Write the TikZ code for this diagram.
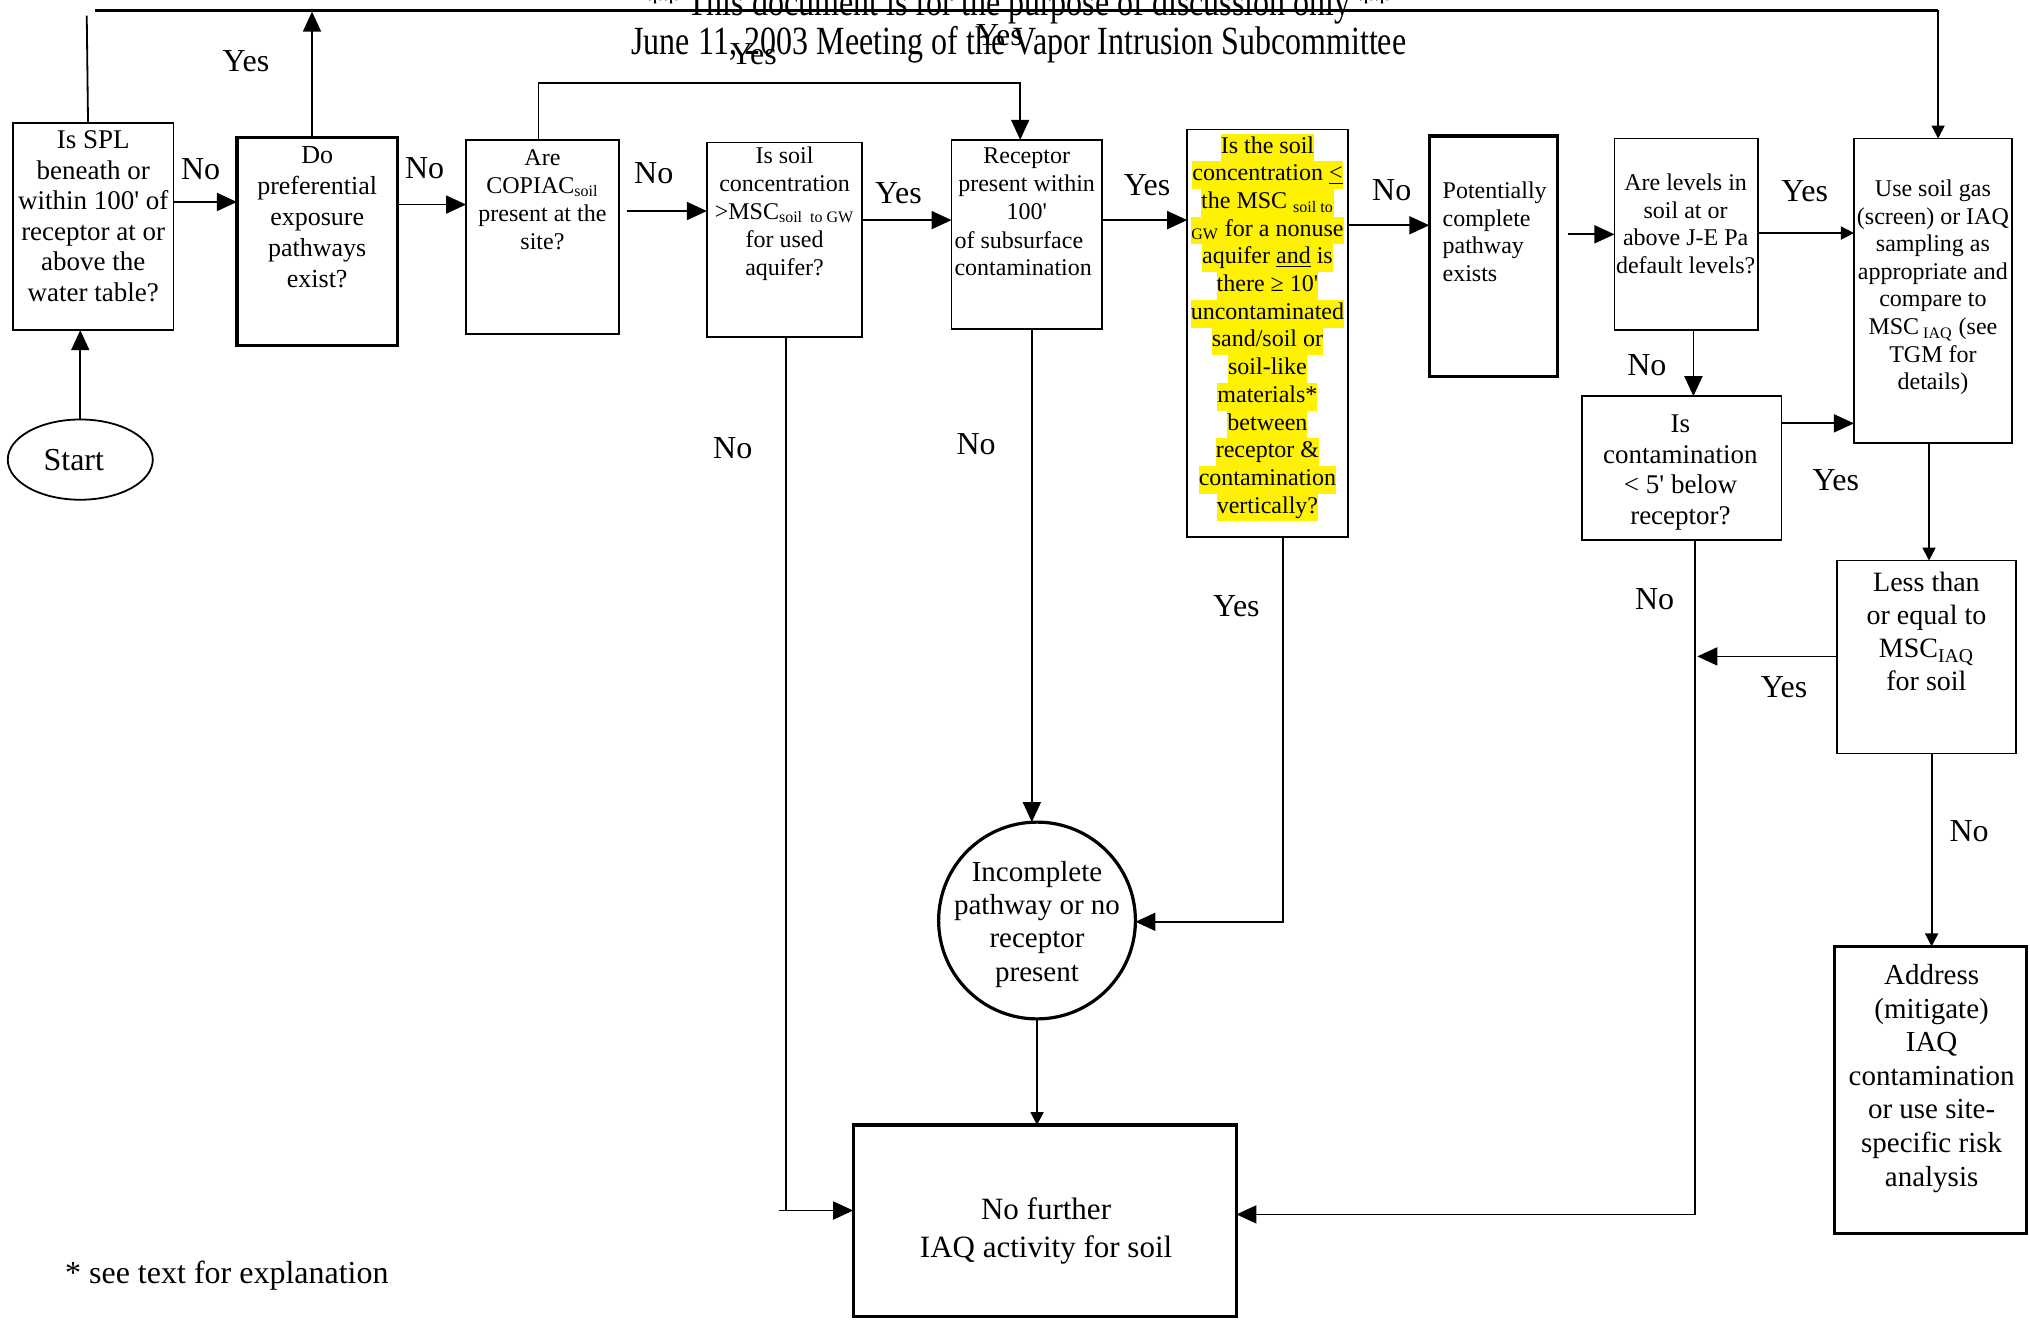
\documentclass[tikz,border=0pt]{standalone}
\usepackage{graphicx}
\usepackage{fontspec}
\setmainfont{Liberation Serif}
\usetikzlibrary{arrows.meta,shapes.geometric}
\newcommand{\pxu}{0.6473pt}
\newcommand{\hlt}[1]{{\setlength{\fboxsep}{0pt}\colorbox{yellow}{\strut #1}}}
\newcommand{\fsz}[2]{\fontsize{#1}{#2}\selectfont}
\newcommand{\qs}{\textquotesingle}
\begin{document}
\begin{tikzpicture}[x=0.6473pt,y=-0.6473pt,
  box/.style 2 args={draw, line width=0.9pt, inner sep=0pt, outer sep=0pt, minimum width={#1*\pxu}, minimum height={#2*\pxu}},
  tbox/.style 2 args={box={#1}{#2}, line width=1.6pt},
  txt/.style={align=center, inner sep=0pt},
  lab/.style={font=\fsz{16}{18}, inner sep=0pt},
  conn/.style={line width=0.9pt},
  arr/.style={conn, -{Triangle[length=10pt,width=9pt]}},
  sarr/.style={conn, -{Triangle[length=6.5pt,width=6.5pt]}},
  topl/.style={line width=1.5pt}]
\path[fill=white, use as bounding box] (0,0) rectangle (1568,1019);

% titles
\node[font=\fsz{20}{22}, anchor=base, inner sep=0pt] (ti1) at (787,12) {\scalebox{0.8}[1]{** This document is for the purpose of discussion only **}};
\node[font=\fsz{20}{22}, anchor=base, inner sep=0pt] (ti2) at (787,42) {\scalebox{0.8}[1]{June 11, 2003 Meeting of the Vapor Intrusion Subcommittee}};

% boxes
\node[box={124}{160}] (b1) at (72,175) {};
\node[txt, font=\fsz{13.5}{15.3}] (t1) at (72,167) {Is SPL\\beneath or\\within 100\qs{} of\\receptor at or\\above the\\water table?};

\node[tbox={124}{161}] (b2) at (245,186.5) {};
\node[txt, font=\fsz{13}{15.5}] (t2) at (245,168) {Do\\preferential\\exposure\\pathways\\exist?};

\node[box={118}{150}] (b3) at (419,183) {};
\node[txt, font=\fsz{12}{14}] (t3) at (419,154) {Are\\COPIAC\textsubscript{soil}\\present at the\\site?};

\node[box={120}{150}] (b4) at (606,185) {};
\node[txt, font=\fsz{12}{13.9}] (t4) at (606,165) {Is soil\\concentration\\>MSC\textsubscript{soil\ \ to GW}\\for used\\aquifer?};

\node[box={116}{146}] (b5) at (793,181) {};
\node[txt, font=\fsz{12}{13.9}] (t5a) at (793,142) {Receptor\\present within\\100\qs};
\node[txt, font=\fsz{12}{13.9}, align=left, anchor=west] (t5b) at (737,196) {of subsurface\\contamination};

\node[box={124}{315}] (b6) at (979,257.5) {};
\node[txt, font=\fsz{12}{13.85}] (t6) at (979,253) {\hlt{Is the soil}\\\hlt{concentration \underline{<}}\\\hlt{the MSC \textsubscript{soil to}}\\\hlt{\textsubscript{GW} for a nonuse}\\\hlt{aquifer \underline{and} is}\\\hlt{there ≥ 10\qs}\\\hlt{uncontaminated}\\\hlt{sand/soil or}\\\hlt{soil-like}\\\hlt{materials*}\\\hlt{between}\\\hlt{receptor \&}\\\hlt{contamination}\\\hlt{vertically?}};

\node[tbox={99}{186}] (b7) at (1153.5,198) {};
\node[txt, font=\fsz{12}{13.8}, align=left, anchor=west] (t7) at (1114,179) {Potentially\\complete\\pathway\\exists};

\node[box={111}{148}] (b8) at (1302.5,181) {};
\node[txt, font=\fsz{12}{13.8}] (t8) at (1302,173) {Are levels in\\soil at or\\above J-E Pa\\default levels?};

\node[box={154}{111}] (b9) at (1299,361.5) {};
\node[txt, font=\fsz{13.5}{15.3}] (t9) at (1298,365) {Is\\contamination\\< 5\qs{} below\\receptor?};

\node[box={122}{235}] (b10) at (1493,224.5) {};
\node[txt, font=\fsz{12}{13.8}] (t10) at (1493,222) {Use soil gas\\(screen) or IAQ\\sampling as\\appropriate and\\compare to\\MSC\,\textsubscript{IAQ} (see\\TGM for\\details)};

\node[box={138}{149}] (b11) at (1488,507.5) {};
\node[txt, font=\fsz{14}{16.5}] (t11) at (1488,488) {Less than\\or equal to\\MSC\textsubscript{IAQ}\\for soil};

\node[tbox={148}{222}] (b12) at (1491,842) {};
\node[txt, font=\fsz{14.5}{16.8}] (t12) at (1492,833) {Address\\(mitigate)\\IAQ\\contamination\\or use site-\\specific risk\\analysis};

\node[draw, circle, line width=1.6pt, minimum size={152*\pxu}, inner sep=0pt, outer sep=0pt] (ci) at (801,711) {};
\node[txt, font=\fsz{14.5}{16.6}] (tci) at (801,714) {Incomplete\\pathway or no\\receptor\\present};

\node[tbox={296}{148}] (b13) at (807,943) {};
\node[txt, font=\fsz{15.5}{18.8}] (t13) at (808,951) {No further\\IAQ activity for soil};

\node[draw, ellipse, line width=0.9pt, minimum width={112*\pxu}, minimum height={62*\pxu}, inner sep=0pt, outer sep=0pt] (st) at (62,355) {};
\node[font=\fsz{16}{18}, inner sep=0pt] (tst) at (57,355) {Start};

\node[font=\fsz{16}{18}, anchor=west, inner sep=0pt] (fn) at (50,985) {* see text for explanation};

% helper coordinates
\coordinate (h156) at (0,156);
\coordinate (h158) at (0,158);
\coordinate (h170) at (0,170);
\coordinate (h174) at (0,174);
\coordinate (h180) at (0,180);
\coordinate (h327) at (0,327);
\coordinate (h507) at (0,507);
\coordinate (v68) at (68,0);
\coordinate (v241) at (241,0);
\coordinate (v416) at (416,0);
\coordinate (v607) at (607,0);
\coordinate (v797) at (797,0);
\coordinate (v991) at (991,0);
\coordinate (v1308) at (1308,0);
\coordinate (v1490) at (1490,0);
\coordinate (v1492) at (1492,0);
\coordinate (c4s) at (484,163);
\coordinate (c8s) at (1211,181);
\coordinate (c14e) at (1311,507);
\coordinate (c15) at (1309,938);
\coordinate (c16) at (607,935);
\coordinate (c16s) at (602,935);
\coordinate (c18) at (991,712);
\coordinate (c20a) at (67,12);
\coordinate (c20b) at (73,8);
\coordinate (c20c) at (1497,8);
\coordinate (c21) at (241,9);
\coordinate (c22) at (788,64);

% connectors
\draw[arr] (st.north) -- (st.north |- b1.south);
\draw[arr] (b1.east |- h156) -- (b2.west |- h156);
\draw[arr] (b2.east |- h158) -- (b3.west |- h158);
\draw[arr] (c4s) -- (b4.west |- c4s);
\draw[arr] (b4.east |- h170) -- (b5.west |- h170);
\draw[arr] (b5.east |- h170) -- (b6.west |- h170);
\draw[arr] (b6.east |- h174) -- (b7.west |- h174);
\draw[arr] (c8s) -- (b8.west |- c8s);
\draw[sarr] (b8.east |- h180) -- (b10.west |- h180);
\draw[arr] (b8.south -| v1308) -- (b9.north -| v1308);
\draw[arr] (b9.east |- h327) -- (b10.west |- h327);
\draw[sarr] (b10.south -| v1490) -- (b11.north -| v1490);
\draw[sarr] (b11.south -| v1492) -- (b12.north -| v1492);
\draw[arr] (b11.west |- h507) -- (c14e);
\draw[arr] (b9.south -| c15) -- (c15) -- (b13.east |- c15);
\draw[conn] (b4.south -| v607) -- (c16);
\draw[arr] (c16s) -- (b13.west |- c16s);
\draw[arr] (b5.south -| v797) -- (ci.north -| v797);
\draw[arr] (b6.south -| v991) -- (c18) -- (ci.east |- c18);
\draw[sarr] (ci.south) -- (b13.north -| ci.south);
\draw[conn] (b1.north -| v68) -- (c20a);
\draw[topl] (c20b) -- (c20c);
\draw[sarr] (c20c) -- (b10.north -| c20c);
\draw[arr] (b2.north -| v241) -- (c21);
\draw[arr] (b3.north -| v416) |- (c22) -- (b5.north -| c22);

% labels
\node[lab] (l1) at (190,47) {Yes};
\node[lab] (l2) at (582,42) {Yes};
\node[lab] (l3) at (772,27) {Yes};
\node[lab] (l4) at (155,131) {No};
\node[lab] (l5) at (328,130) {No};
\node[lab] (l6) at (505,134) {No};
\node[lab] (l7) at (694,149) {Yes};
\node[lab] (l8) at (886,143) {Yes};
\node[lab] (l9) at (1075,147) {No};
\node[lab] (l10) at (1394,148) {Yes};
\node[lab] (l11) at (1272,282) {No};
\node[lab] (l12) at (1418,371) {Yes};
\node[lab] (l13) at (1378,531) {Yes};
\node[lab] (l14) at (1278,463) {No};
\node[lab] (l15) at (1521,642) {No};
\node[lab] (l16) at (566,346) {No};
\node[lab] (l17) at (754,343) {No};
\node[lab] (l18) at (955,468) {Yes};
\end{tikzpicture}
\end{document}
